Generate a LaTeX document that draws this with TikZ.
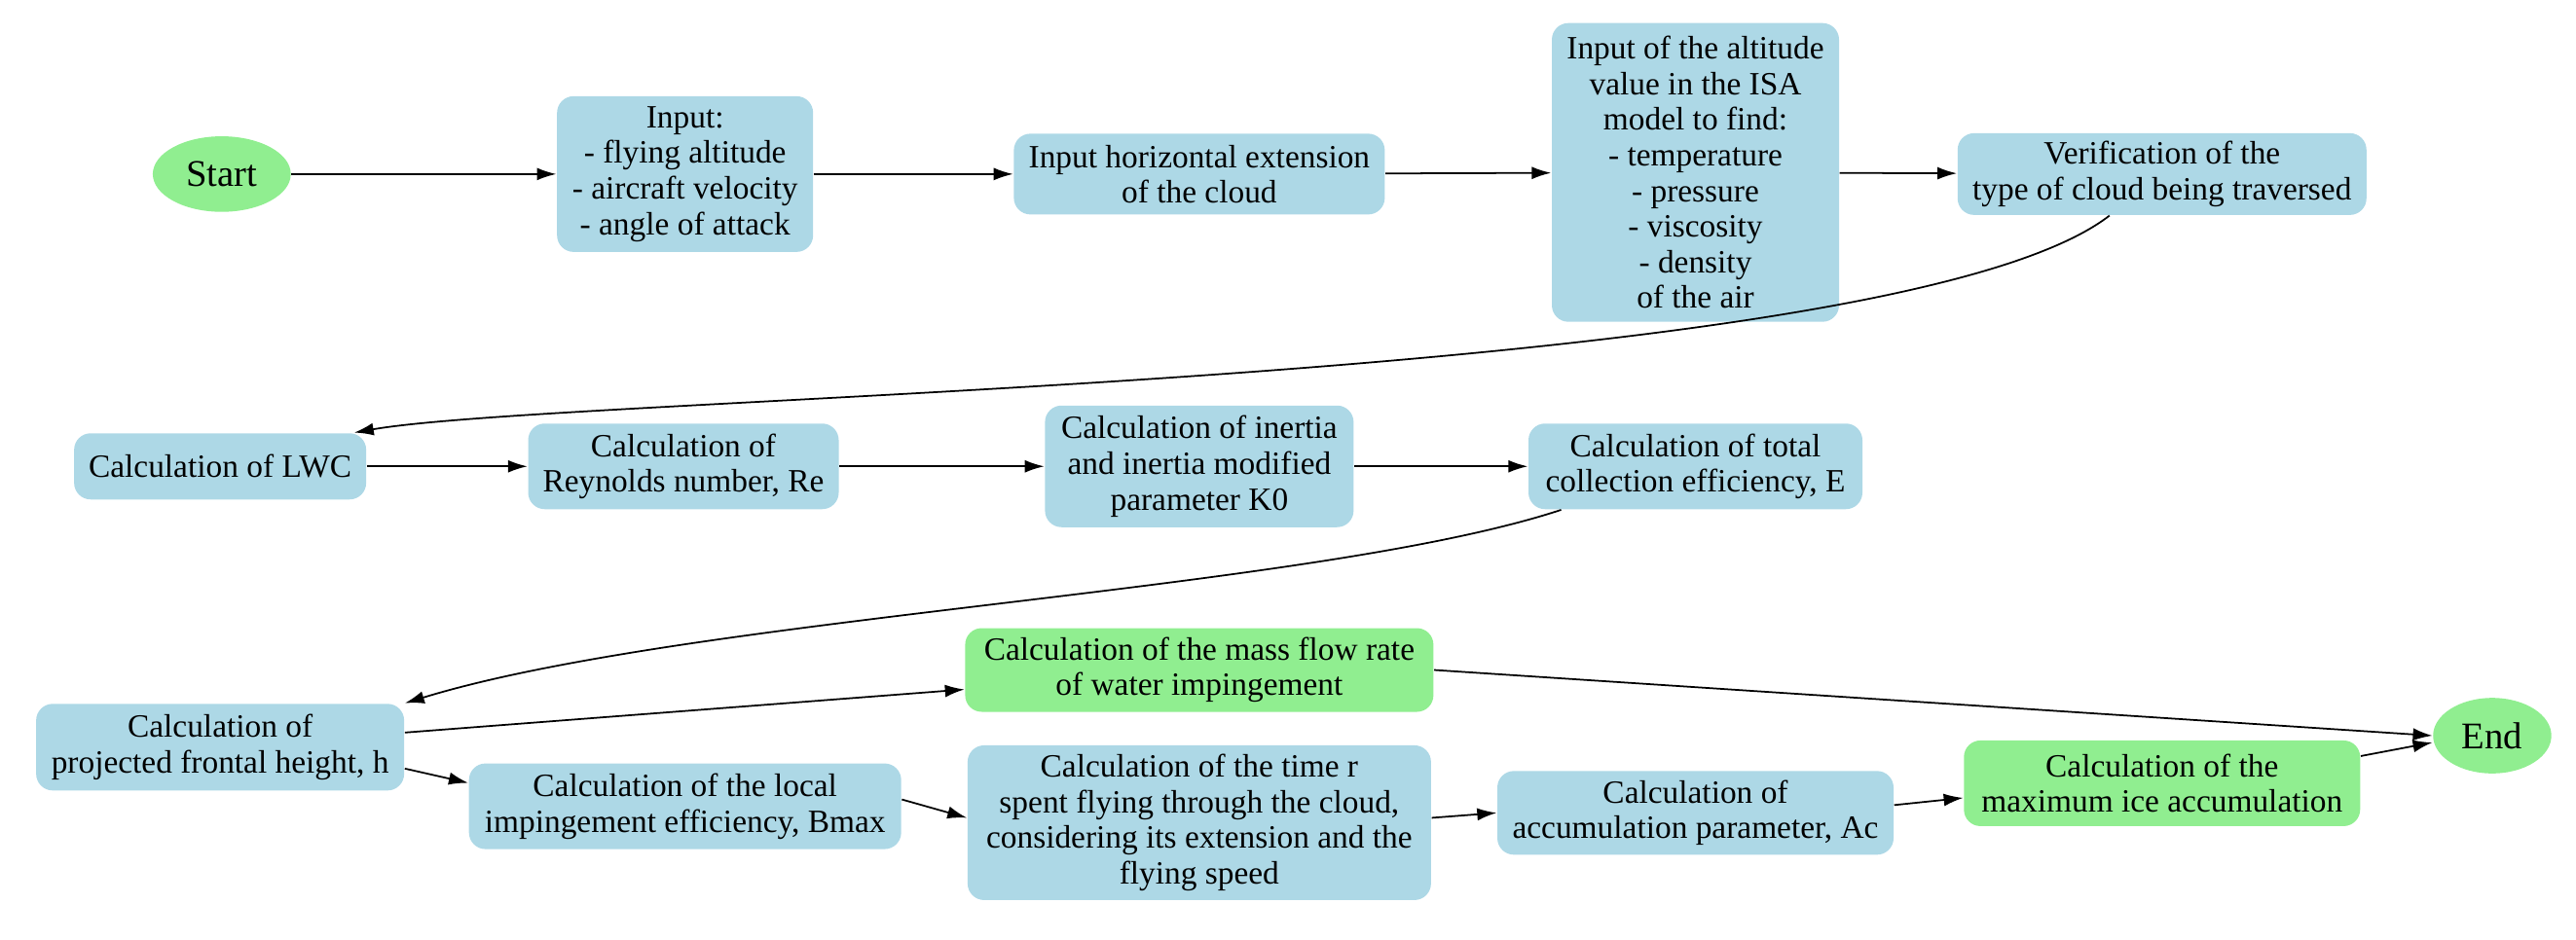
\documentclass[tikz,border=0pt]{standalone}
\usepackage{fontspec}
\setmainfont{Liberation Serif}
\usetikzlibrary{shapes.geometric,arrows.meta}
\definecolor{bl}{HTML}{ADD8E6}
\definecolor{gr}{HTML}{90EE90}
\begin{document}
\begin{tikzpicture}[x=0.016875cm,y=-0.016875cm,
  every node/.style={font=\fontsize{9.5}{10.4}\selectfont},
  box/.style={fill=bl,rounded corners=0.17cm,align=center,inner sep=0pt},
  gbox/.style={box,fill=gr},
  ell/.style={ellipse,fill=gr,inner sep=0pt,font=\fontsize{11}{12}\selectfont},
  arr/.style={-{Latex[length=0.2cm,width=0.13cm]},line width=0.5pt}]
\useasboundingbox (0,0) rectangle (1568,572.4);
\node[ell,minimum width=84*0.016875cm,minimum height=46*0.016875cm] (S) at (135,106) {Start};
\node[box,minimum width=2.63cm,minimum height=1.6cm] (I) at (417,106) {Input:\\- flying altitude\\- aircraft velocity\\- angle of attack};
\node[box,minimum width=3.81cm,minimum height=0.83cm] (H) at (730,106) {Input horizontal extension\\of the cloud};
\node[box,minimum width=2.95cm,minimum height=3.07cm] (A) at (1032,105) {Input of the altitude\\value in the ISA\\model to find:\\- temperature\\- pressure\\- viscosity\\- density\\of the air};
\node[box,minimum width=4.2cm,minimum height=0.84cm] (V) at (1316,106) {Verification of the\\type of cloud being traversed};
\node[box,minimum width=3.0cm,minimum height=0.68cm] (L) at (134,284) {Calculation of LWC};
\node[box,minimum width=3.19cm,minimum height=0.88cm] (R) at (416,284) {Calculation of\\Reynolds number, Re};
\node[box,minimum width=3.17cm,minimum height=1.25cm] (K) at (730,284) {Calculation of inertia\\and inertia modified\\parameter K0};
\node[box,minimum width=3.43cm,minimum height=0.88cm] (T) at (1032,284) {Calculation of total\\collection efficiency, E};
\node[box,minimum width=3.78cm,minimum height=0.89cm] (P) at (134,455) {Calculation of\\projected frontal height, h};
\node[gbox,minimum width=4.81cm,minimum height=0.86cm] (M) at (730,408) {Calculation of the mass flow rate\\of water impingement};
\node[ell,minimum width=72*0.016875cm,minimum height=46*0.016875cm] (E) at (1517,448) {End};
\node[box,minimum width=4.44cm,minimum height=0.88cm] (Lo) at (417,491) {Calculation of the local\\impingement efficiency, Bmax};
\node[box,minimum width=4.76cm,minimum height=1.59cm] (Ti) at (730,501) {Calculation of the time r\\spent flying through the cloud,\\considering its extension and the\\flying speed};
\node[box,minimum width=4.07cm,minimum height=0.86cm] (Ac) at (1032,495) {Calculation of\\accumulation parameter, Ac};
\node[gbox,minimum width=4.07cm,minimum height=0.88cm] (Mx) at (1316,477) {Calculation of the\\maximum ice accumulation};
\draw[arr] (S) -- (I);
\draw[arr] (I) -- (H);
\draw[arr] (H) -- (A);
\draw[arr] (A) -- (V);
\draw[arr] ([xshift=-0.54cm]V.south) .. controls (1150,235) and (350,240) .. ([xshift=-0.13cm]L.north east);
\draw[arr] (L) -- (R);
\draw[arr] (R) -- (K);
\draw[arr] (K) -- (T);
\draw[arr] ([xshift=-1.38cm]T.south) .. controls (800,360) and (420,375) .. (P.north east);
\draw[arr] ([yshift=0.15cm]P.east) -- ([yshift=-0.2cm]M.west);
\draw[arr] (M.east) -- (E.west);
\draw[arr] ([yshift=-0.22cm]P.east) -- ([yshift=0.24cm]Lo.west);
\draw[arr] ([yshift=0.07cm]Lo.east) -- ([yshift=0.05cm]Ti.west);
\draw[arr] ([yshift=0.05cm]Ti.east) -- (Ac.west);
\draw[arr] ([yshift=0.08cm]Ac.east) -- ([yshift=-0.15cm]Mx.west);
\draw[arr] ([yshift=0.28cm]Mx.east) -- ([yshift=-0.07cm]E.west);
\end{tikzpicture}
\end{document}
